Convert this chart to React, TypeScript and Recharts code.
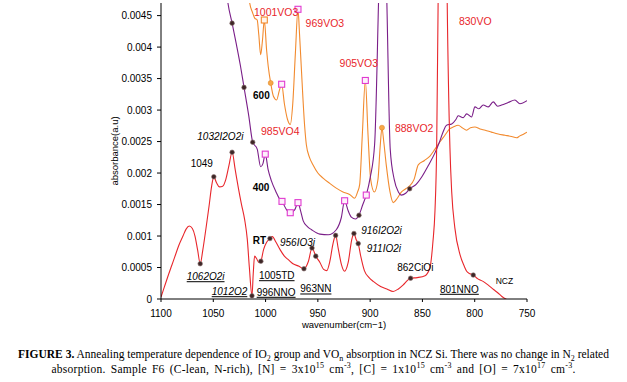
import { ComposedChart, Line, ReferenceDot, XAxis, YAxis } from "recharts";

const wnTicks = [1100, 1050, 1000, 950, 900, 850, 800, 750];
const absTicks = [0, 0.0005, 0.001, 0.0015, 0.002, 0.0025, 0.003, 0.0035, 0.004, 0.0045];

// RT (as grown) spectrum: [wavenumber, absorbance]
const rtSpec: [number, number][] = [
  [1100, 0.00003], [1097, 0.00018], [1094, 0.00033], [1090, 0.00052], [1087, 0.00066],
  [1083, 0.00085], [1079, 0.001], [1076, 0.00111], [1073, 0.00116], [1070, 0.00112],
  [1067.5, 0.001], [1065, 0.00078], [1062.5, 0.00056], [1060, 0.00078], [1057, 0.00112],
  [1054, 0.00148], [1051.5, 0.0018], [1049.5, 0.00194], [1047, 0.00185], [1044, 0.00178],
  [1041, 0.00179], [1038, 0.0019], [1035, 0.00212], [1032, 0.00233], [1029, 0.00205],
  [1026, 0.00176], [1023, 0.0015], [1020, 0.00126], [1017.5, 0.00095], [1015.5, 0.0005],
  [1013, 0.00005], [1011.8, 0.0004], [1010.5, 0.00068], [1008.5, 0.00064], [1006.5, 0.00058],
  [1004.5, 0.0006], [1002, 0.00078], [999, 0.0009], [995.8, 0.00096], [993.5, 0.00099],
  [990, 0.0009], [986, 0.00078], [982, 0.00068], [978, 0.00062], [973.8, 0.00056],
  [968, 0.00052], [963.3, 0.00048], [959, 0.0006], [955.6, 0.00081], [952, 0.00068],
  [948, 0.00058], [944.5, 0.00047], [941.5, 0.00045], [938.5, 0.0006], [935.5, 0.00088],
  [933, 0.00101], [930.5, 0.0008], [927.5, 0.00055], [924.5, 0.00044], [921, 0.00058],
  [917.5, 0.00095], [915.5, 0.00104], [913.3, 0.00094], [911.4, 0.00088], [909, 0.00068],
  [905.5, 0.00045], [901, 0.00034], [897, 0.00028], [890, 0.0002], [884, 0.00016],
  [878, 0.00012], [873, 0.00016], [868.6, 0.00022], [864, 0.0003], [861.3, 0.00033],
  [855, 0.00034], [847.5, 0.00037], [842.8, 0.0005], [840, 0.0009], [838, 0.0014],
  [836.4, 0.0024], [835, 0.0047], [833, 0.0075], [830.5, 0.0098], [828, 0.0075],
  [826.3, 0.0047], [823.7, 0.0024], [822, 0.0017], [819, 0.00113], [814, 0.0007],
  [810, 0.00052], [807.7, 0.00044], [804.5, 0.0004], [801.4, 0.00038], [797, 0.00032],
  [792, 0.00028], [787, 0.00022], [782, 0.00015], [778, 0.0001], [774, 0.00004],
  [768, -0.00002],
];
const rtDots = [1062.5, 1049.5, 1032, 1013, 1004.5, 995.8, 963.3, 955.6, 952, 933, 915.5, 911.4, 861.3, 801.4];

// 400C anneal
const s400Spec: [number, number][] = [
  [1040, 0.0053], [1036, 0.0047], [1032, 0.00438], [1028, 0.00405], [1024, 0.0037],
  [1020.6, 0.00336], [1016, 0.0029], [1012.3, 0.00249], [1008, 0.00238], [1004.7, 0.0021],
  [1002.5, 0.00215], [1000.3, 0.0023], [997.5, 0.00205], [994.5, 0.00188], [990, 0.0017],
  [987, 0.0016], [984.3, 0.00155], [980, 0.00142], [976.4, 0.00137], [972, 0.00142],
  [969, 0.00153], [966.5, 0.0014], [964, 0.00124], [960, 0.00115], [956, 0.0011],
  [948, 0.00103], [940, 0.00102], [932.4, 0.0011], [927.6, 0.00129], [924.4, 0.00156],
  [921, 0.0014], [918, 0.0013], [914, 0.00127], [910.7, 0.00133], [907, 0.0015],
  [903.7, 0.00165], [899.9, 0.00193], [895.7, 0.00246], [892, 0.0047], [888, 0.0076],
  [884, 0.0047], [880.8, 0.00238], [877, 0.0019], [873, 0.0017], [870.3, 0.00165],
  [866, 0.00168], [862.2, 0.00175], [856, 0.00182], [851, 0.00193], [844.4, 0.00212],
  [838, 0.00232], [834, 0.00248], [831, 0.00262], [826.9, 0.00276], [822, 0.00278],
  [818, 0.00285], [815.8, 0.00291], [811, 0.00288], [807.7, 0.00294], [803, 0.00289],
  [799.8, 0.00305], [796, 0.00302], [791.9, 0.00308], [787, 0.00305], [782.3, 0.00313],
  [778, 0.00306], [774.3, 0.00308], [768, 0.00312], [761.6, 0.00316], [756.8, 0.0031],
  [750, 0.00315],
];
const s400Dots = [1032, 1020.6, 1012.3, 910.7, 862.2];
const s400Squares = [1000.3, 984.3, 976.4, 969, 924.4, 903.7];

// 600C anneal
const s600Spec: [number, number][] = [
  [1020, 0.0056], [1015.2, 0.0047], [1012.5, 0.00455], [1010.4, 0.00446], [1008, 0.00443],
  [1006.5, 0.0042], [1004.7, 0.00388], [1003, 0.0041], [1001.2, 0.00443], [999, 0.00395],
  [997.5, 0.0037], [995.1, 0.00343], [992.5, 0.00322], [989.4, 0.00316], [987, 0.0033],
  [984.6, 0.00341], [982, 0.0031], [979, 0.00285], [976.4, 0.00277], [974, 0.0031],
  [971.5, 0.0039], [969, 0.0046], [967.5, 0.0042], [965.9, 0.0037], [962.6, 0.00274],
  [961, 0.00245], [958, 0.00225], [954.7, 0.00213], [950, 0.002], [945, 0.00192],
  [939, 0.00184], [932.4, 0.00176], [926, 0.0017], [919.6, 0.00166], [914.8, 0.0016],
  [912, 0.0017], [910, 0.00182], [907.5, 0.0026], [904.6, 0.00347], [902, 0.0026],
  [899.5, 0.0019], [896, 0.0017], [892.5, 0.0019], [890.5, 0.0024], [888.7, 0.00272],
  [887, 0.0025], [884.6, 0.00213], [881, 0.0017], [878, 0.00153], [874, 0.0016],
  [870, 0.0017], [866, 0.00175], [862, 0.0018], [858, 0.0019], [854, 0.00213],
  [848, 0.0022], [842.8, 0.00227], [838, 0.00238], [833, 0.0025], [828.5, 0.0026],
  [824, 0.0027], [820.6, 0.00273], [815.8, 0.00276], [812, 0.00272], [807.7, 0.00268],
  [804, 0.00272], [799.8, 0.00273], [795, 0.0027], [790, 0.00268], [784, 0.00265],
  [777.5, 0.00262], [771, 0.0026], [764.7, 0.00258], [760, 0.00256], [756.8, 0.00259],
  [753, 0.00262], [750, 0.00265],
];
const s600Squares = [984.6, 969, 904.6];
const s600OrangeSquares = [1001.2];
const s600OrangeDots = [995.1, 888.7];

// peak assignments, anchored at (wavenumber, absorbance)
const peakNotes = [
  { text: "1001VO3", wn: 1011.1, a: 0.004545, kind: "vo" },
  { text: "969VO3", wn: 961.7, a: 0.004376, kind: "vo" },
  { text: "905VO3", wn: 929.2, a: 0.003741, kind: "vo" },
  { text: "830VO", wn: 815.1, a: 0.004402, kind: "vo" },
  { text: "985VO4", wn: 1004.4, a: 0.002656, kind: "vo" },
  { text: "888VO2", wn: 876.3, a: 0.00271, kind: "vo" },
  { text: "600", wn: 1012, a: 0.003238, kind: "temp" },
  { text: "400", wn: 1012.3, a: 0.001767, kind: "temp" },
  { text: "RT", wn: 1012.3, a: 0.000925, kind: "temp" },
  { text: "1032I2O2i", wn: 1065.3, a: 0.002576, kind: "io" },
  { text: "1049", wn: 1071.6, a: 0.002154, kind: "plain" },
  { text: "956IO3i", wn: 986.2, a: 0.0009, kind: "io" },
  { text: "916I2O2i", wn: 908.5, a: 0.001095, kind: "io" },
  { text: "911IO2i", wn: 903.3, a: 0.000805, kind: "io" },
  { text: "1062O2i", wn: 1075.4, a: 0.000354, kind: "iou" },
  { text: "1012O2", wn: 1051.5, a: 0.000116, kind: "iou" },
  { text: "1005TD", wn: 1006.3, a: 0.00037, kind: "u" },
  { text: "996NNO", wn: 1008.5, a: 0.000106, kind: "u" },
  { text: "963NN", wn: 966.8, a: 0.000159, kind: "u" },
  { text: "862CiOi", wn: 874.1, a: 0.000503, kind: "plain" },
  { text: "801NNO", wn: 833.3, a: 0.000154, kind: "u" },
  { text: "NCZ", wn: 780, a: 0.00029, kind: "small" },
];

const RED = "#e8262b";
const PURPLE = "#7a1e88";
const ORANGE = "#f28a2e";

const toRows = (s: [number, number][]) => s.map(([wn, a]) => ({ wn, a }));

type Marks = { dot?: number[]; sq?: number[]; osq?: number[]; odot?: number[] };

function markRenderer(m: Marks) {
  return (p: any) => {
    const { cx, cy, index, payload } = p;
    const k = `m${index}`;
    const wn = payload?.wn;
    if (cx == null || cy == null) return <g key={k} />;
    if (m.dot?.includes(wn))
      return <circle key={k} cx={cx} cy={cy} r={2.3} fill="#3d2626" stroke="#8a7070" strokeWidth={0.6} />;
    if (m.sq?.includes(wn))
      return <rect key={k} x={cx - 3} y={cy - 3} width={6} height={6} fill="#fdf0fb" stroke="#e03ad0" strokeWidth={1.1} />;
    if (m.osq?.includes(wn))
      return <rect key={k} x={cx - 3} y={cy - 3} width={6} height={6} fill="#fff6ec" stroke={ORANGE} strokeWidth={1.1} />;
    if (m.odot?.includes(wn))
      return <circle key={k} cx={cx} cy={cy} r={2.5} fill="#f7a848" stroke="#e08a2a" strokeWidth={0.6} />;
    return <g key={k} />;
  };
}

function noteStyle(kind: string) {
  switch (kind) {
    case "vo":
      return { fill: RED, fontSize: 10.5 };
    case "temp":
      return { fill: "#000", fontSize: 10, fontWeight: "bold" };
    case "io":
      return { fill: "#000", fontSize: 10, fontStyle: "italic" };
    case "iou":
      return { fill: "#000", fontSize: 10, fontStyle: "italic", textDecoration: "underline" };
    case "u":
      return { fill: "#000", fontSize: 10, textDecoration: "underline" };
    case "small":
      return { fill: "#000", fontSize: 8.5 };
    default:
      return { fill: "#000", fontSize: 10 };
  }
}

const sub = { fontSize: 8, lineHeight: 0 };
const sup = { fontSize: 8, lineHeight: 0 };

export default function App() {
  return (
    <div style={{ position: "absolute", left: 0, top: 0, width: 627, height: 382, background: "#fff" }}>
      <div style={{ fontFamily: "'Liberation Sans', Arial, sans-serif" }}>
        <ComposedChart width={627} height={340} margin={{ top: 3, right: 100, bottom: 11, left: 0 }}>
          <XAxis
            dataKey="wn"
            type="number"
            domain={[750, 1100]}
            reversed
            ticks={wnTicks}
            allowDataOverflow
            tick={{ fontSize: 10, fill: "#000" }}
            tickSize={3}
            tickMargin={8}
            stroke="#000"
            height={30}
            label={{
              content: ({ viewBox }: any) => (
                <text x={viewBox.x + viewBox.width / 2} y={viewBox.y + 29} textAnchor="middle" fontSize={9.5} fill="#000">
                  wavenumber(cm−1)
                </text>
              ),
            }}
          />
          <XAxis xAxisId="top" orientation="top" type="number" domain={[750, 1100]} reversed height={0} tick={false} tickLine={false} stroke="#000" />
          <YAxis
            type="number"
            domain={[0, 0.0047]}
            ticks={absTicks}
            allowDataOverflow
            width={161}
            tick={{ fontSize: 10, fill: "#000" }}
            tickFormatter={(v: number) => String(v)}
            tickSize={4}
            tickMargin={5}
            stroke="#000"
            label={{
              content: ({ viewBox }: any) => {
                const cx = viewBox.x + viewBox.width - 46;
                const cy = viewBox.y + viewBox.height / 2;
                return (
                  <text x={cx} y={cy} transform={`rotate(-90, ${cx}, ${cy})`} textAnchor="middle" dy="0.35em" fontSize={9.5} fill="#000">
                    absorbance(a.u)
                  </text>
                );
              },
            }}
          />
          <YAxis yAxisId="right" orientation="right" type="number" domain={[0, 0.0047]} width={0} tick={false} tickLine={false} stroke="#000" />
          <Line
            data={toRows(s600Spec)}
            dataKey="a"
            type="monotone"
            stroke={ORANGE}
            strokeWidth={1.1}
            dot={markRenderer({ sq: s600Squares, osq: s600OrangeSquares, odot: s600OrangeDots })}
            activeDot={false}
            isAnimationActive={false}
          />
          <Line
            data={toRows(s400Spec)}
            dataKey="a"
            type="monotone"
            stroke={PURPLE}
            strokeWidth={1.1}
            dot={markRenderer({ dot: s400Dots, sq: s400Squares })}
            activeDot={false}
            isAnimationActive={false}
          />
          <Line
            data={toRows(rtSpec)}
            dataKey="a"
            type="monotone"
            stroke={RED}
            strokeWidth={1.1}
            dot={markRenderer({ dot: rtDots })}
            activeDot={false}
            isAnimationActive={false}
          />
          {peakNotes.map((n) => (
            <ReferenceDot
              key={n.text}
              x={n.wn}
              y={n.a}
              r={0}
              shape={(p: any) => (
                <text x={p.cx} y={p.cy} dy="0.35em" {...noteStyle(n.kind)}>
                  {n.text}
                </text>
              )}
            />
          ))}
        </ComposedChart>
      </div>
      <div
        style={{
          position: "absolute",
          left: 0,
          top: 347,
          width: 627,
          textAlign: "center",
          fontFamily: "'Liberation Serif', 'Times New Roman', serif",
          fontSize: 11.5,
          lineHeight: "15px",
          color: "#000",
          whiteSpace: "nowrap",
        }}
      >
        <b>FIGURE 3.</b> Annealing temperature dependence of IO<sub style={sub}>2</sub> group and VO<sub style={sub}>n</sub>{" "}
        absorption in NCZ Si. There was no change in N<sub style={sub}>2</sub> related
        <br />
        <span style={{ wordSpacing: 2, letterSpacing: 0.25 }}>
          absorption. Sample F6 (C-lean, N-rich), [N] = 3x10<sup style={sup}>15</sup> cm<sup style={sup}>-3</sup>, [C] = 1x10
          <sup style={sup}>15</sup> cm<sup style={sup}>-3</sup> and [O] = 7x10<sup style={sup}>17</sup> cm<sup style={sup}>-3</sup>.
        </span>
      </div>
    </div>
  );
}
